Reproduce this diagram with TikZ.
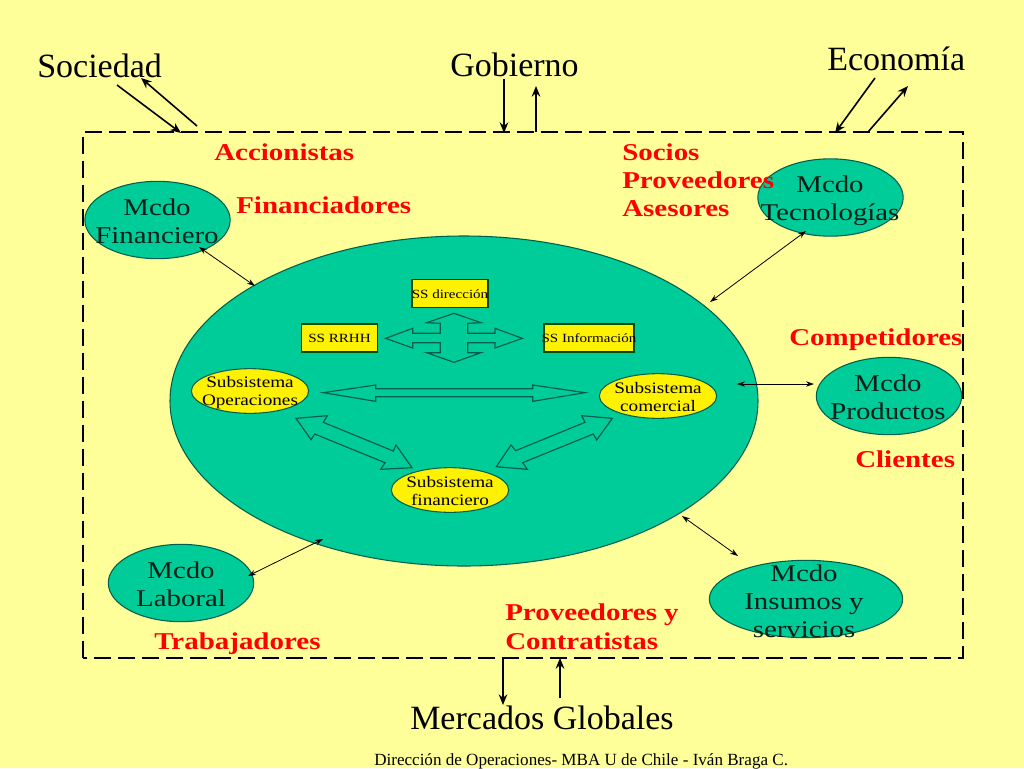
\documentclass[tikz,border=0pt]{standalone}
\usepackage{fontspec}
\setmainfont{Liberation Serif}
\newfontfamily\wideserif[FakeStretch=1.2]{Liberation Serif}
\usetikzlibrary{shapes.geometric,arrows.meta}
\definecolor{bgyellow}{HTML}{FFFF99}
\definecolor{sea}{HTML}{00CC99}
\definecolor{seaedge}{HTML}{005F4C}
\tikzset{
  x=0.75pt,y=-0.75pt,
  oval/.style={ellipse,draw=seaedge,line width=0.8pt,inner sep=0pt},
  market/.style={oval,fill=sea,minimum width=109pt,minimum height=58pt},
  subsys/.style={oval,fill=yellow,minimum width=88pt,minimum height=33.5pt},
  ssbox/.style={draw=black!70!green,line width=0.9pt,fill=yellow,inner sep=0pt},
  ssarrow/.style={draw=seaedge,line width=0.9pt,fill=sea},
  title/.style={inner sep=0pt,anchor=base west,font=\fontsize{25.5}{28}\selectfont},
  redlabel/.style={inner sep=0pt,anchor=base west,text=red,font=\wideserif\bfseries\fontsize{18.1}{21}\selectfont},
  mkttext/.style={inner sep=0pt,align=center,text=black!85!sea,font=\wideserif\fontsize{18}{21}\selectfont},
  subtext/.style={inner sep=0pt,align=center,font=\wideserif\fontsize{12}{13.5}\selectfont},
  boxtext/.style={inner sep=0pt,font=\wideserif\fontsize{9.4}{11}\selectfont},
  thinarrow/.style={{Stealth[length=6pt,width=4pt]}-{Stealth[length=6pt,width=4pt]},line width=0.6pt,black},
  flowarrow/.style={-{Stealth[length=8pt,width=6.5pt]},line width=1.2pt,black},
  frameline/.style={line width=2.2pt,dash pattern=on 12.5pt off 5.5pt,black}
}
\begin{document}
\begin{tikzpicture}
\useasboundingbox (0,0) rectangle (1024,768);
\fill[bgyellow] (0,0) rectangle (1024,768);

% dashed frame
\draw[frameline] (83,658) -- (83,132) -- (963,132) -- (963,658) -- cycle;

% ellipses
\node[oval,fill=sea,minimum width=441pt,minimum height=247.5pt] (org) at (464,401) {};
\node[market] (mfin) at (157.5,220) {};
\node[market] (mtec) at (830.5,197.5) {};
\node[market] (mpro) at (889,396) {};
\node[market] (mlab) at (181,583) {};
\node[market,minimum width=145pt] (mins) at (806,599) {};

\node[mkttext] (tfin) at (157,221) {Mcdo\\Financiero};
\node[mkttext] (ttec) at (830,201) {Mcdo\\Tecnologías};
\node[mkttext] (tpro) at (888,397) {Mcdo\\Productos};
\node[mkttext] (tlab) at (181,584) {Mcdo\\Laboral};
\node[mkttext] (tins) at (804,601) {Mcdo\\Insumos y\\servicios};

% subsystems
\node[subsys] (sop) at (250,391) {};
\node[subsys] (sco) at (658,396) {};
\node[subsys] (sfi) at (450,490) {};
\node[subtext] (top) at (250,393) {Subsistema\\Operaciones};
\node[subtext] (tco) at (658,397) {Subsistema\\comercial};
\node[subtext] (tfi) at (450,491) {Subsistema\\financiero};

% boxes
\node[ssbox,minimum width=57pt,minimum height=20.5pt] (bdir) at (450,293.5) {};
\node[ssbox,minimum width=57.5pt,minimum height=21pt] (brh) at (339.5,338) {};
\node[ssbox,minimum width=67.5pt,minimum height=21pt] (binf) at (589,338) {};
\node[boxtext] (tdir) at (450,294) {SS dirección};
\node[boxtext] (trh) at (339.5,338.5) {SS RRHH};
\node[boxtext] (tinf) at (589,338.5) {SS Información};

% block arrows
\begin{scope}[shift={(280,270)},x=0.25pt,y=-0.25pt]
\filldraw[ssarrow] (522,130)--(603,158)--(563,160)--(563,190)--(645,190)--(645,175)--(727,205)--(645,234)--(645,218)--(563,218)--(563,248)--(603,248)--(522,277)--(440,248)--(481,248)--(481,218)--(398,218)--(398,234)--(317,205)--(398,175)--(398,190)--(481,190)--(481,160)--(440,158)--cycle;
\filldraw[ssarrow] (130,368)--(287,345)--(287,356)--(758,356)--(758,345)--(915,368)--(758,394)--(758,380)--(287,380)--(287,394)--cycle;
\filldraw[ssarrow] (48,445)--(142,437)--(130,457)--(340,543)--(348,525)--(396,593)--(302,598)--(315,578)--(104,492)--(93,509)--cycle;
\filldraw[ssarrow] (997,445)--(905,437)--(915,457)--(707,542)--(693,525)--(649,590)--(742,598)--(728,578)--(940,492)--(950,510)--cycle;
\end{scope}

% thin connectors
\coordinate (fa) at (199,247); \coordinate (fb) at (255,286);
\coordinate (ta) at (806,231); \coordinate (tb) at (710,302);
\coordinate (pa) at (814,384); \coordinate (pb) at (737,384);
\coordinate (ia) at (738,556); \coordinate (ib) at (682,516);
\coordinate (la) at (248,576); \coordinate (lb) at (323,539);
\draw[thinarrow] (fa) -- (fb);
\draw[thinarrow] (ta) -- (tb);
\draw[thinarrow] (pa) -- (pb);
\draw[thinarrow] (ia) -- (ib);
\draw[thinarrow] (la) -- (lb);

% red labels
\node[redlabel] (accion) at (214,160) {Accionistas};
\node[redlabel] (financ) at (236,213) {Financiadores};
\node[redlabel] (socios) at (622,160) {Socios};
\node[redlabel] (provee) at (622,188) {Proveedores};
\node[redlabel] (asesor) at (622,216) {Asesores};
\node[redlabel] (compet) at (789,345) {Competidores};
\node[redlabel] (client) at (855,467) {Clientes};
\node[redlabel] (provy) at (505,620) {Proveedores y};
\node[redlabel] (contra) at (505,649) {Contratistas};
\node[redlabel] (trabaj) at (154,649) {Trabajadores};

% outer labels
\node[title] (soc) at (37,77) {Sociedad};
\node[title] (gob) at (450,76) {Gobierno};
\node[title] (eco) at (827,70) {Economía};
\node[title] (mer) at (410,729) {Mercados Globales};
\node[inner sep=0pt,anchor=base west,font=\fontsize{12.8}{14}\selectfont] (foot) at (374,765) {Dirección de Operaciones- MBA U de Chile - Iván Braga C.};

% outer flows
\coordinate (s1) at (117,85); \coordinate (s2) at (181,133);
\coordinate (s3) at (197,126); \coordinate (s4) at (141,78);
\coordinate (g1) at (504,79); \coordinate (g2) at (504,133);
\coordinate (g3) at (536,132); \coordinate (g4) at (536,86);
\coordinate (e1) at (875,78); \coordinate (e2) at (835,133);
\coordinate (e3) at (868,132); \coordinate (e4) at (908,86);
\coordinate (m1) at (503,658); \coordinate (m2) at (503,705);
\coordinate (m3) at (560,698); \coordinate (m4) at (560,658);
\draw[flowarrow] (s1) -- (s2);
\draw[flowarrow] (s3) -- (s4);
\draw[flowarrow] (g1) -- (g2);
\draw[flowarrow] (g3) -- (g4);
\draw[flowarrow] (e1) -- (e2);
\draw[flowarrow] (e3) -- (e4);
\draw[flowarrow] (m1) -- (m2);
\draw[flowarrow] (m3) -- (m4);
\end{tikzpicture}
\end{document}
